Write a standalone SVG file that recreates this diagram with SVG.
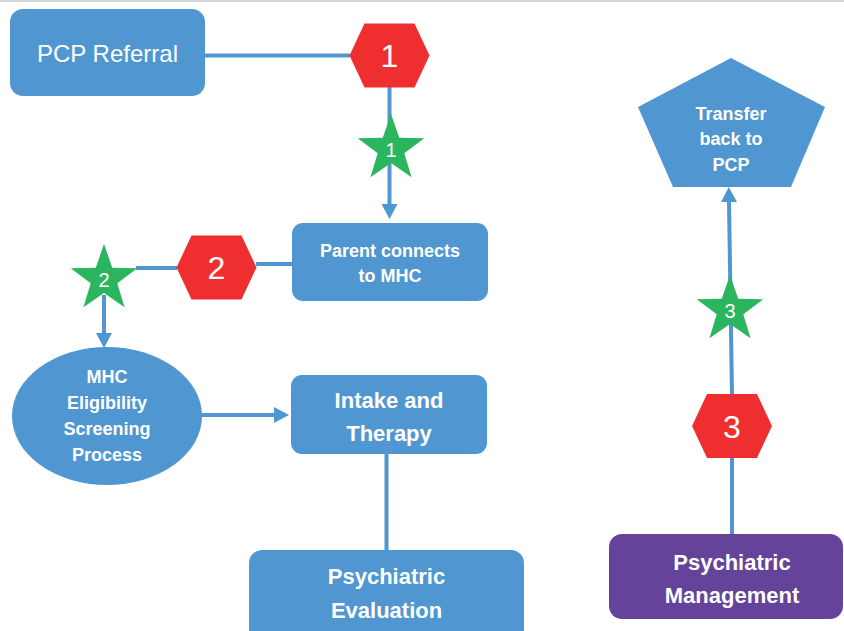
<svg xmlns="http://www.w3.org/2000/svg" width="844" height="631" viewBox="0 0 844 631">
  <style>
    .box { fill: #5097D1; }
    .hex { fill: #EF2F2F; }
    .star { fill: #2BB55E; }
    .purple { fill: #65439A; }
    .conn { stroke: #5097D1; stroke-width: 4; fill: none; }
    .t { fill: #ffffff; font-family: "Liberation Sans", Arial, sans-serif; text-anchor: middle; }
    .b18 { font-size: 18px; font-weight: bold; }
    .b22 { font-size: 22px; font-weight: bold; }
    .n32 { font-size: 32px; }
    .n20 { font-size: 20px; }
    .r24 { font-size: 24px; }
  </style>
  <defs>
    <marker id="arrow" viewBox="0 0 15 16" markerWidth="15" markerHeight="16" refX="0" refY="8" orient="auto" markerUnits="userSpaceOnUse">
      <path d="M0,0 L15,8 L0,16 z" fill="#5097D1"/>
    </marker>
    <polygon id="hexshape" points="-40,0 -25,-32 25,-32 40,0 25,32 -25,32"/>
    <polygon id="starshape" points="0,-35 8.23,-11.33 33.29,-10.82 13.31,4.33 20.57,28.32 0,14 -20.57,28.32 -13.31,4.33 -33.29,-10.82 -8.23,-11.33"/>
  </defs>

  <rect x="0" y="0" width="844" height="2" fill="#D4D4D4"/>

  <g id="connectors">
    <line class="conn" x1="205" y1="55.5" x2="350" y2="55.5"/>
    <line class="conn" x1="389.5" y1="87" x2="389.5" y2="204" marker-end="url(#arrow)"/>
    <line class="conn" x1="293" y1="264" x2="256" y2="264"/>
    <line class="conn" x1="177" y1="268" x2="136" y2="268"/>
    <line class="conn" x1="104" y1="295" x2="104" y2="333" marker-end="url(#arrow)"/>
    <line class="conn" x1="200" y1="415" x2="274" y2="415" marker-end="url(#arrow)"/>
    <line class="conn" x1="386.5" y1="453" x2="386.5" y2="551"/>
    <line class="conn" x1="732" y1="458" x2="732" y2="535"/>
    <line class="conn" x1="732" y1="395" x2="729" y2="202" marker-end="url(#arrow)"/>
  </g>

  <g id="pcp-referral">
    <rect class="box" x="10" y="9" width="195" height="87" rx="13"/>
    <text class="t r24" x="107.5" y="62">PCP Referral</text>
  </g>

  <g id="hex-1">
    <use href="#hexshape" class="hex" transform="translate(389.5,55.5)"/>
    <text class="t n32" x="389.5" y="67">1</text>
  </g>

  <g id="star-1">
    <use href="#starshape" class="star" transform="translate(391,149)"/>
    <text class="t n20" x="391" y="157">1</text>
  </g>

  <g id="parent-connects">
    <rect class="box" x="292" y="223" width="196" height="78" rx="11"/>
    <text class="t b18" x="390" y="257">Parent connects</text>
    <text class="t b18" x="390" y="282">to MHC</text>
  </g>

  <g id="hex-2">
    <use href="#hexshape" class="hex" transform="translate(216.5,267.5)"/>
    <text class="t n32" x="216.5" y="279">2</text>
  </g>

  <g id="star-2">
    <use href="#starshape" class="star" transform="translate(104,279)"/>
    <text class="t n20" x="104" y="287">2</text>
  </g>

  <g id="mhc-screening">
    <ellipse class="box" cx="107" cy="416" rx="95" ry="69"/>
    <text class="t b18" x="107" y="383">MHC</text>
    <text class="t b18" x="107" y="409">Eligibility</text>
    <text class="t b18" x="107" y="435">Screening</text>
    <text class="t b18" x="107" y="461">Process</text>
  </g>

  <g id="intake-therapy">
    <rect class="box" x="291" y="375" width="196" height="79" rx="11"/>
    <text class="t b22" x="389" y="408">Intake and</text>
    <text class="t b22" x="389" y="441">Therapy</text>
  </g>

  <g id="psychiatric-evaluation">
    <rect class="box" x="249" y="550" width="275" height="95" rx="13"/>
    <text class="t b22" x="386.5" y="584">Psychiatric</text>
    <text class="t b22" x="386.5" y="618">Evaluation</text>
  </g>

  <g id="transfer-back">
    <polygon class="box" points="731,58 825,107 791,187 673,187 638,107"/>
    <text class="t b18" x="731" y="120">Transfer</text>
    <text class="t b18" x="731" y="145">back to</text>
    <text class="t b18" x="731" y="171">PCP</text>
  </g>

  <g id="star-3">
    <use href="#starshape" class="star" transform="translate(730,310)"/>
    <text class="t n20" x="730" y="318">3</text>
  </g>

  <g id="hex-3">
    <use href="#hexshape" class="hex" transform="translate(732,426)"/>
    <text class="t n32" x="732" y="438">3</text>
  </g>

  <g id="psychiatric-management">
    <rect class="purple" x="609" y="534" width="234" height="85" rx="13"/>
    <text class="t b22" x="732" y="570">Psychiatric</text>
    <text class="t b22" x="732" y="603">Management</text>
  </g>
</svg>
